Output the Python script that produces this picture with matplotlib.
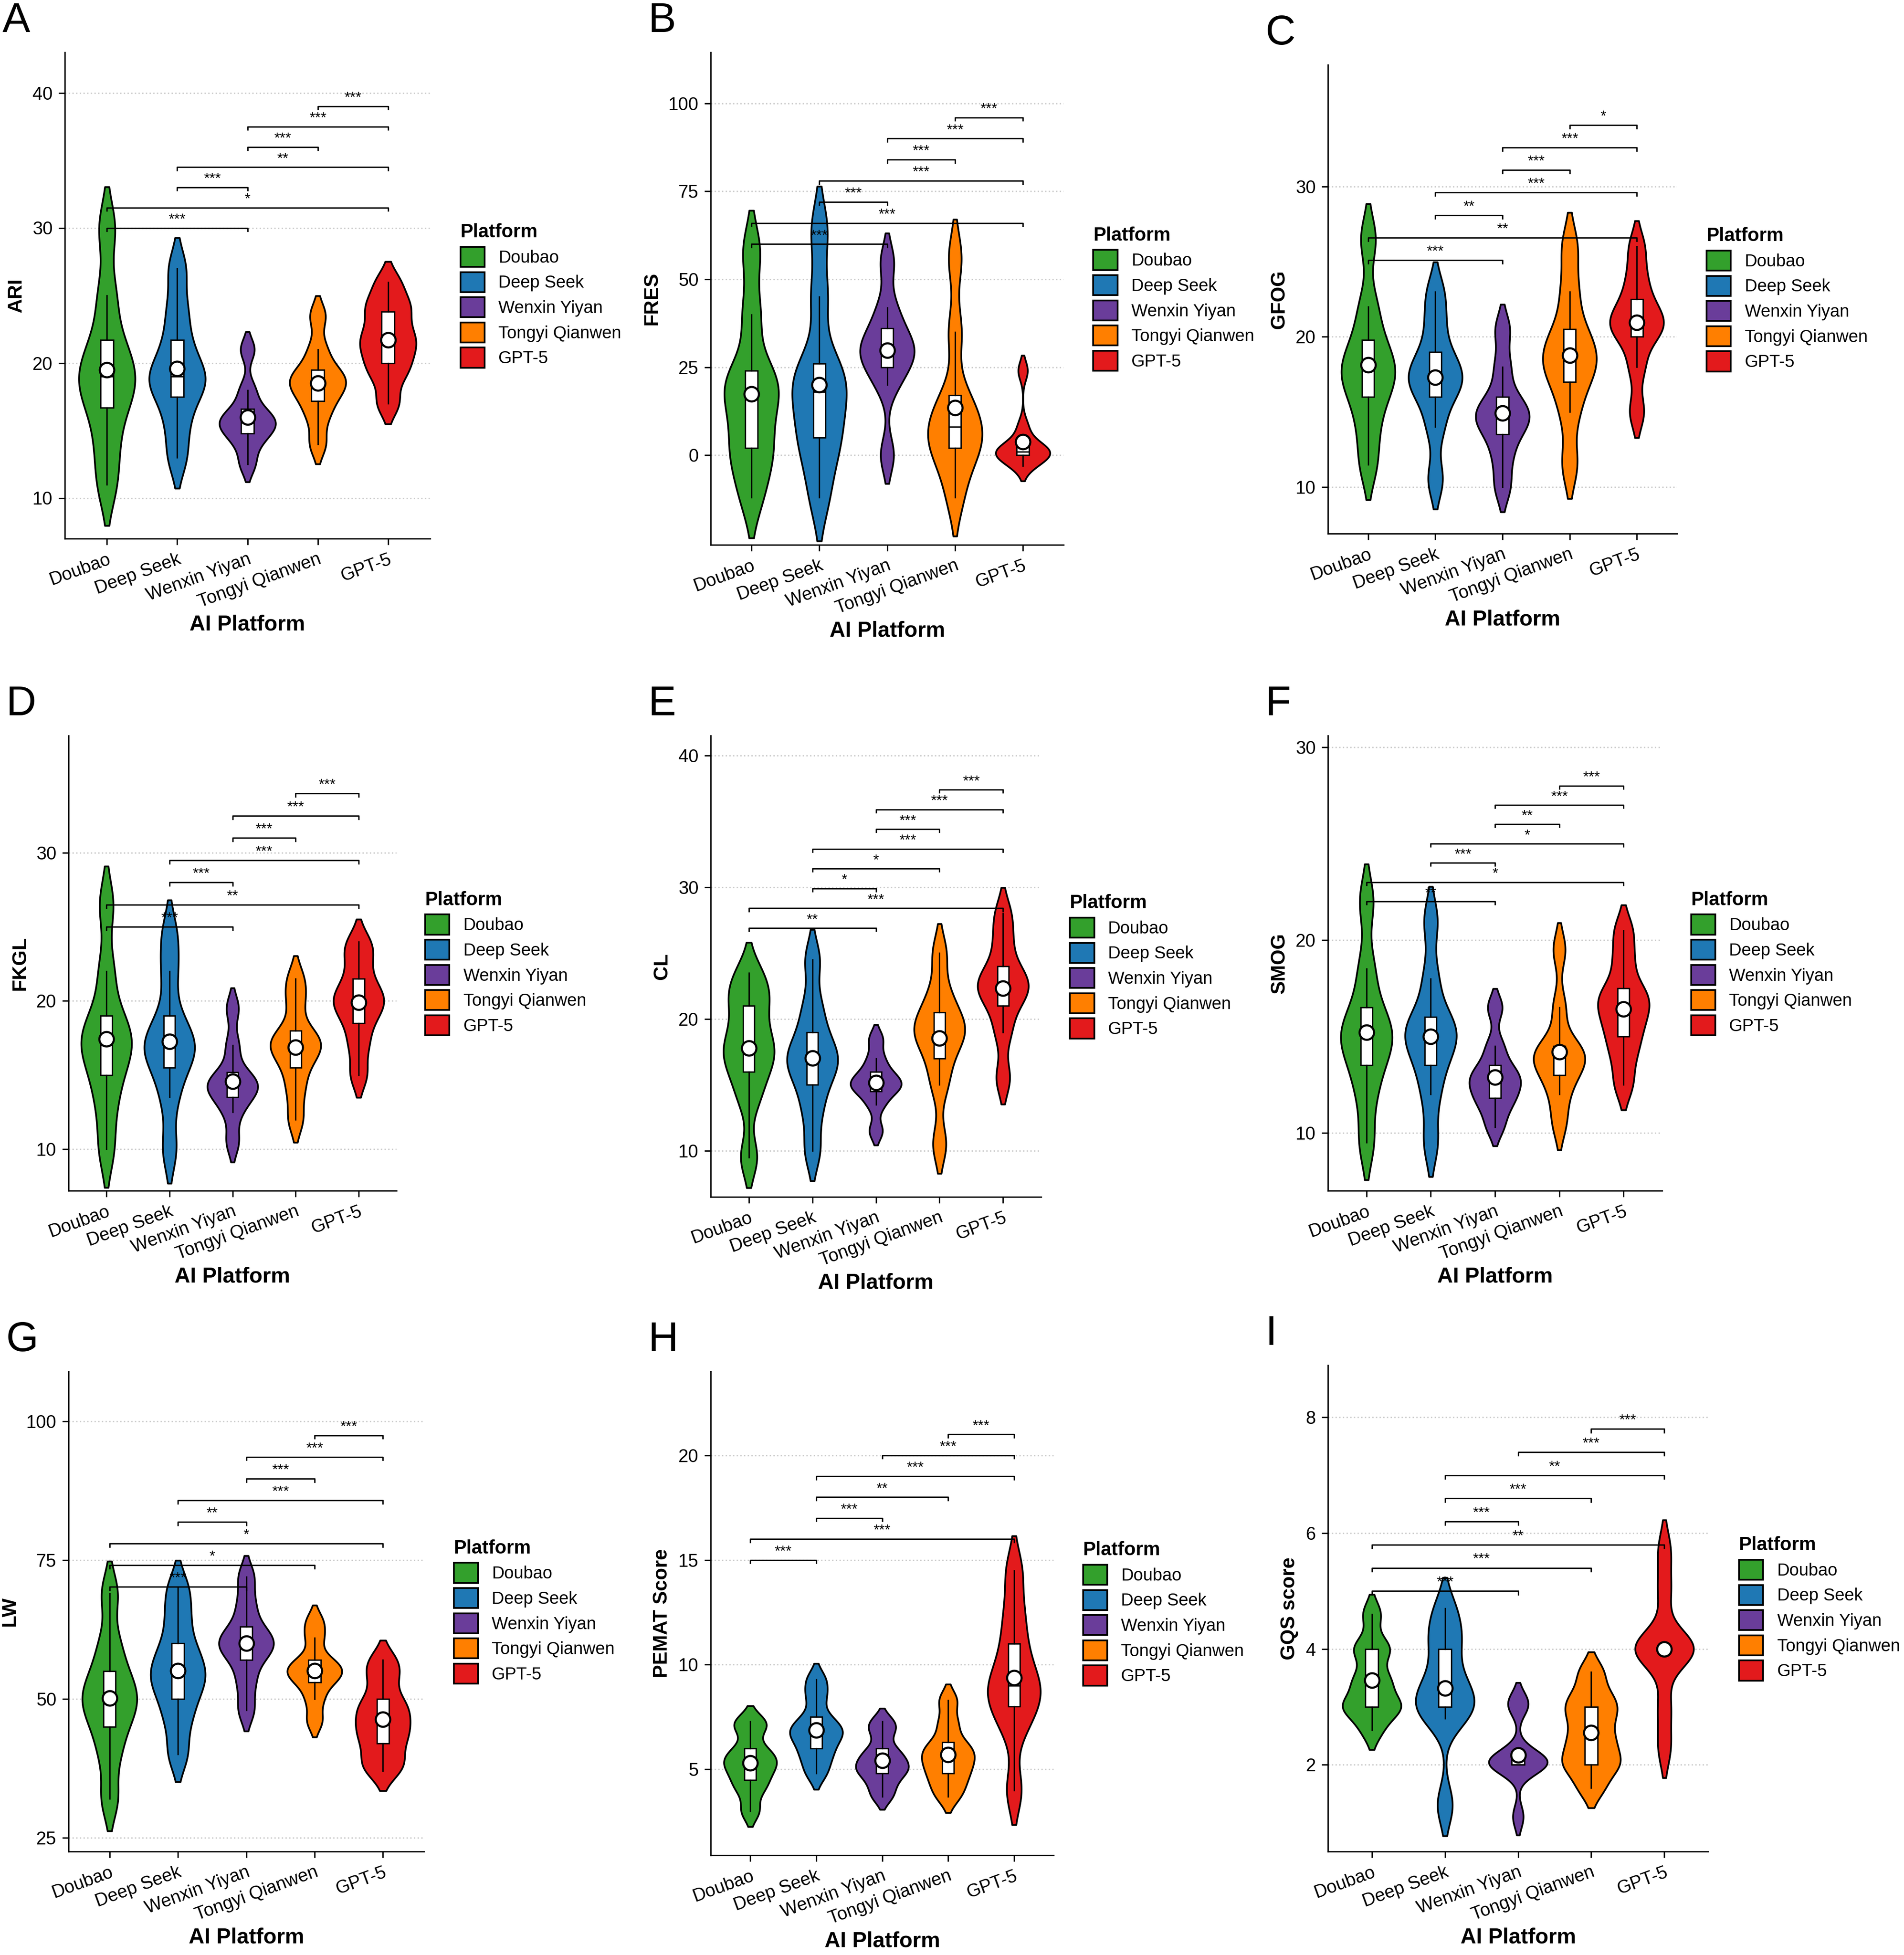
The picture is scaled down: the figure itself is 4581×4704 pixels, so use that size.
import numpy as np
import matplotlib
matplotlib.use('Agg')
import matplotlib.pyplot as plt
from matplotlib.patches import Patch

plt.rcParams['font.family'] = ['Liberation Sans', 'DejaVu Sans']

platforms = ['Doubao', 'Deep Seek', 'Wenxin Yiyan', 'Tongyi Qianwen', 'GPT-5']
colors = ['#33a02c', '#1f78b4', '#6a3d9a', '#ff7f00', '#e31a1c']

# representative values per platform
ARI = [[11, 14, 16.7, 18, 19, 20, 21.7, 25, 30],
       [13, 15.5, 17.5, 18.5, 19, 20, 21.7, 24, 27],
       [12.5, 14, 14.8, 15.3, 15.6, 16, 16.6, 18, 21],
       [14, 16, 17.2, 18, 18.5, 19, 19.5, 21, 23.5],
       [17, 19, 20, 21, 21.7, 22.5, 23.8, 24.5, 26]]
FRES = [[-12, -2, 2, 10, 17, 20, 24, 40, 58],
        [-12, 0, 5, 12, 18, 22, 26, 45, 64],
        [0, 20, 25, 28, 30, 32, 36, 42, 55],
        [-12, -2, 2, 5, 8, 12, 17, 35, 56],
        [-3, -1, 0, 0.5, 1, 2, 3, 8, 24]]
GFOG = [[11.5, 14, 16, 17, 17.8, 18.5, 19.8, 22, 26.5],
        [10.5, 14, 16, 16.8, 17.3, 18, 19, 21, 23],
        [10, 12, 13.5, 14.3, 14.7, 15.2, 16, 18, 20.5],
        [11.5, 15, 17, 18, 18.5, 19.5, 20.5, 23, 26],
        [15, 18, 20, 20.5, 21, 21.5, 22.5, 24, 26]]
FKGL = [[10, 13, 15, 16.5, 17, 18, 19, 22, 26.5],
        [10, 13.5, 15.5, 16.5, 17, 17.5, 19, 22, 24.5],
        [10.5, 12.5, 13.5, 14, 14.3, 14.6, 15.2, 17, 19.5],
        [12, 14, 15.5, 16.5, 17, 17.3, 18, 20, 21.5],
        [15, 17, 18.5, 19.5, 20, 20.5, 21.5, 23, 24]]
CL = [[9.5, 14, 16, 17, 18, 19, 21, 22, 23.5],
      [10, 13, 15, 16.3, 17, 17.5, 19, 21, 24.5],
      [11.5, 13.5, 14.5, 14.8, 15.1, 15.5, 16, 17, 18.5],
      [10.5, 15, 17, 18.5, 19, 19.5, 20.5, 22, 25],
      [15.5, 19, 21, 22, 22.5, 23, 24, 26, 28]]
SMOG = [[9.5, 12, 13.5, 14.5, 15, 15.5, 16.5, 18.5, 22],
        [9.5, 12, 13.5, 14.5, 15, 15.5, 16, 18, 21],
        [10.3, 11.3, 11.8, 12.3, 12.7, 13, 13.5, 14.5, 16.5],
        [10.5, 12, 13, 13.5, 14, 14.2, 14.5, 16.5, 19.5],
        [12.5, 14, 15, 15.8, 16.5, 17, 17.5, 19, 20.5]]
LW = [[32, 40, 45, 48, 50, 52, 55, 60, 69],
      [40, 46, 50, 53, 54.5, 57, 60, 65, 70],
      [48, 53, 57, 59, 60, 61, 63, 67, 72],
      [46, 50, 53, 54, 55, 56, 57, 61, 64],
      [37, 39, 42, 44, 46, 48, 50, 54, 57]]
PEMAT = [[3, 4, 4.5, 5, 5.3, 5.6, 6, 7, 7.3],
         [4.8, 5.5, 6, 6.5, 6.8, 7, 7.5, 8.5, 9.3],
         [3.7, 4.3, 4.8, 5, 5.3, 5.6, 6, 6.8, 7.3],
         [3.7, 4.3, 4.8, 5.2, 5.6, 5.9, 6.3, 7.2, 8.3],
         [4, 7, 8, 8.6, 9, 9.8, 11, 12.5, 14.5]]
GQS = [[2.6, 3, 3, 3, 3.4, 3.5, 4, 4, 4.6],
       [1.3, 2.8, 3, 3, 3.3, 3.5, 4, 4.3, 4.7],
       [1.1, 2, 2, 2, 2, 2.1, 2.2, 3, 3.1],
       [1.6, 2, 2, 2.3, 2.5, 2.8, 3, 3.2, 3.6],
       [2.3, 3, 4, 4, 4, 4, 4, 5, 5.7]]

# significance pairs (1-based platform index), bottom to top
SIG_A = [(1, 3, '***'), (1, 5, '*'), (2, 3, '***'), (2, 5, '**'), (3, 4, '***'), (3, 5, '***'), (4, 5, '***')]
SIG_B = [(1, 3, '***'), (1, 5, '***'), (2, 3, '***'), (2, 5, '***'), (3, 4, '***'), (3, 5, '***'), (4, 5, '***')]
SIG_C = [(1, 3, '***'), (1, 5, '**'), (2, 3, '**'), (2, 5, '***'), (3, 4, '***'), (3, 5, '***'), (4, 5, '*')]
SIG_D = [(1, 3, '***'), (1, 5, '**'), (2, 3, '***'), (2, 5, '***'), (3, 4, '***'), (3, 5, '***'), (4, 5, '***')]
SIG_E = [(1, 3, '**'), (1, 5, '***'), (2, 3, '*'), (2, 4, '*'), (2, 5, '***'), (3, 4, '***'), (3, 5, '***'), (4, 5, '***')]
SIG_F = [(1, 3, '**'), (1, 5, '*'), (2, 3, '***'), (2, 5, '*'), (3, 4, '**'), (3, 5, '***'), (4, 5, '***')]
SIG_G = [(1, 3, '***'), (1, 4, '*'), (1, 5, '*'), (2, 3, '**'), (2, 5, '***'), (3, 4, '***'), (3, 5, '***'), (4, 5, '***')]
SIG_H = [(1, 2, '***'), (1, 5, '***'), (2, 3, '***'), (2, 4, '**'), (2, 5, '***'), (3, 5, '***'), (4, 5, '***')]
SIG_I = [(1, 3, '***'), (1, 4, '***'), (1, 5, '**'), (2, 3, '***'), (2, 4, '***'), (2, 5, '**'), (3, 5, '***'), (4, 5, '***')]

W, H = 1527, 1568
panels = [
    ('A', 'ARI', ARI, SIG_A, 30, 1.5, (7, 43), [10, 20, 30, 40], (52, 42, 345, 432)),
    ('B', 'FRES', FRES, SIG_B, 60, 6, (-25.5, 114.5), [0, 25, 50, 75, 100], (570, 42, 853, 437)),
    ('C', 'GFOG', GFOG, SIG_C, 25.1, 1.5, (6.9, 38.1), [10, 20, 30], (1065, 52, 1345, 428)),
    ('D', 'FKGL', FKGL, SIG_D, 25.0, 1.5, (7.2, 37.9), [10, 20, 30], (55, 590, 318, 955)),
    ('E', 'CL', CL, SIG_E, 26.9, 1.5, (6.5, 41.5), [10, 20, 30, 40], (570, 590, 835, 960)),
    ('F', 'SMOG', SMOG, SIG_F, 22.0, 1.0, (7.0, 30.6), [10, 20, 30], (1065, 590, 1333, 955)),
    ('G', 'LW', LW, SIG_G, 70.2, 3.9, (22.5, 109), [25, 50, 75, 100], (55, 1100, 340, 1485)),
    ('H', 'PEMAT Score', PEMAT, SIG_H, 15.0, 1.0, (0.9, 24), [5, 10, 15, 20], (570, 1100, 845, 1488)),
    ('I', 'GQS score', GQS, SIG_I, 5.0, 0.4, (0.5, 8.9), [2, 4, 6, 8], (1065, 1095, 1370, 1485)),
]


def violin(ax, vals, x, color, width=0.8):
    v = np.asarray(vals, float)
    bw = 0.55 * v.std() * len(v) ** -0.2
    grid = np.linspace(v.min() - 1.6 * bw, v.max() + 1.6 * bw, 300)
    dens = np.exp(-0.5 * ((grid[:, None] - v[None, :]) / bw) ** 2).sum(axis=1)
    dens = dens / dens.max() * width / 2
    ax.fill_betweenx(grid, x - dens, x + dens, facecolor=color, edgecolor='black', lw=1.0, zorder=2)


fig = plt.figure(figsize=(W / 100, H / 100), dpi=300)

for letter, ylab, data, sig, base, step, ylim, yticks, (x0, y0, x1, y1) in panels:
    ax = fig.add_axes([x0 / W, 1 - y1 / H, (x1 - x0) / W, (y1 - y0) / H])
    pos = np.arange(1, 6)
    for d, p, c in zip(data, pos, colors):
        violin(ax, d, p, c)
    ax.boxplot(data, positions=pos, widths=0.18, patch_artist=True, showfliers=False,
               boxprops=dict(facecolor='white', edgecolor='black', linewidth=0.8),
               medianprops=dict(color='black', linewidth=0.8),
               whiskerprops=dict(color='black', linewidth=0.8),
               capprops=dict(linewidth=0), zorder=3)
    ax.scatter(pos, [np.mean(d) for d in data], s=70, facecolor='white', edgecolor='black', linewidth=1.2, zorder=5)
    for k, (i, j, lab) in enumerate(sig):
        y = base + k * step
        tick = step * 0.15
        ax.plot([i, i, j, j], [y - tick, y, y, y - tick], color='black', lw=0.8)
        ax.text((i + j) / 2, y + step * 0.08, lab, ha='center', va='bottom', fontsize=8.5)
    ax.set_ylim(*ylim)
    ax.set_xlim(0.4, 5.6)
    ax.set_yticks(yticks)
    ax.set_xticks(pos)
    ax.set_xticklabels(platforms, rotation=20, ha='right', rotation_mode='anchor', fontsize=10.5)
    ax.tick_params(axis='y', labelsize=10.5)
    ax.grid(axis='y', color='#cccccc', linestyle=':', linewidth=0.8)
    ax.set_axisbelow(True)
    for s in ['top', 'right']:
        ax.spines[s].set_visible(False)
    ax.set_ylabel(ylab, fontsize=11.5, fontweight='bold')
    ax.set_xlabel('AI Platform', fontsize=12.5, fontweight='bold', labelpad=2)
    handles = [Patch(facecolor=c, edgecolor='black', label=p) for p, c in zip(platforms, colors)]
    leg = ax.legend(handles=handles, title='Platform', loc='center left', bbox_to_anchor=(1.04, 0.5),
                    frameon=False, fontsize=10, title_fontproperties={'weight': 'bold', 'size': 11},
                    handlelength=1.4, handleheight=1.4, labelspacing=0.3)
    leg._legend_box.align = 'left'
    fig.text((x0 - 50) / W, 1 - (y0 - 25) / H, letter, fontsize=24, va='center', ha='left')

fig.savefig('out.png', dpi=300)
